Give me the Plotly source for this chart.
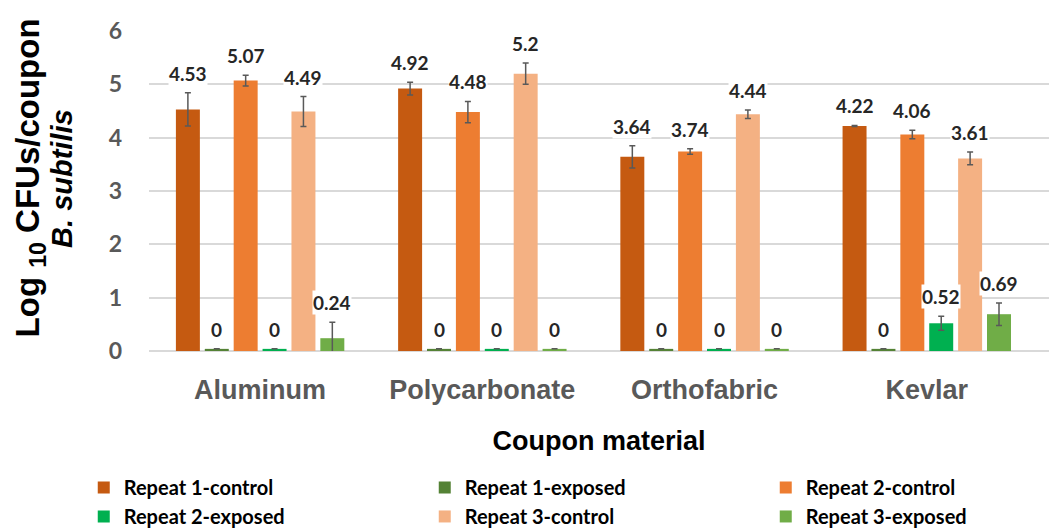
import numpy as np
import plotly.graph_objects as go

# data
materials = ["Aluminum", "Polycarbonate", "Orthofabric", "Kevlar"]
series_names = [
    "Repeat 1-control",
    "Repeat 1-exposed",
    "Repeat 2-control",
    "Repeat 2-exposed",
    "Repeat 3-control",
    "Repeat 3-exposed",
]
r1_control = [4.53, 4.92, 3.64, 4.22]
r1_exposed = [0, 0, 0, 0]
r2_control = [5.07, 4.48, 3.74, 4.06]
r2_exposed = [0, 0, 0, 0.52]
r3_control = [4.49, 5.2, 4.44, 3.61]
r3_exposed = [0.24, 0, 0, 0.69]

r1_control_err = [0.31, 0.12, 0.21, 0.01]
r1_exposed_err = [0, 0, 0, 0]
r2_control_err = [0.1, 0.2, 0.05, 0.08]
r2_exposed_err = [0, 0, 0, 0.13]
r3_control_err = [0.28, 0.2, 0.08, 0.12]
r3_exposed_err = [0.3, 0, 0, 0.21]

values = [r1_control, r1_exposed, r2_control, r2_exposed, r3_control, r3_exposed]
errors = [r1_control_err, r1_exposed_err, r2_control_err, r2_exposed_err,
          r3_control_err, r3_exposed_err]
colors = ["#C55A11", "#548235", "#ED7D31", "#00B050", "#F4B183", "#70AD47"]

bargap = 0.22
n = len(series_names)
slot = (1 - bargap) / n

fig = go.Figure()
for k, (name, vals, errs, col) in enumerate(zip(series_names, values, errors, colors)):
    # zero bars are still drawn as a thin stub, like the original
    shown = np.maximum(vals, 0.04)
    fig.add_trace(go.Bar(
        name=f"<b>{name}</b>",
        x=materials,
        y=shown,
        marker=dict(color=col, line=dict(width=0)),
        error_y=dict(type="data", array=errs, visible=True,
                     color="#595959", thickness=1.5, width=3),
        hoverinfo="skip",
    ))
    for i, (v, e) in enumerate(zip(vals, errs)):
        fig.add_annotation(
            x=i - (1 - bargap) / 2 + (k + 0.5) * slot,
            y=max(v, 0.04) + e,
            text=f"<b>{v:g}</b>",
            showarrow=False,
            yanchor="bottom",
            yshift=7,
            bgcolor="white",
            borderpad=0,
            font=dict(family="Lato", size=19, color="#262626"),
        )

# y axis title, two lines set closer together than plotly's line height
fig.add_annotation(
    text="<b>Log <sub>10</sub> CFUs/coupon</b>",
    xref="paper", yref="paper", x=-0.132, y=0.54,
    xanchor="center", yanchor="middle",
    textangle=-90, showarrow=False,
    font=dict(family="Liberation Sans", size=33, color="black"),
)
fig.add_annotation(
    text="<b><i>B. subtilis</i></b>",
    xref="paper", yref="paper", x=-0.097, y=0.54,
    xanchor="center", yanchor="middle",
    textangle=-90, showarrow=False,
    font=dict(family="Liberation Sans", size=29, color="black"),
)

fig.update_layout(
    width=1052,
    height=529,
    barmode="group",
    bargap=bargap,
    bargroupgap=0.17,
    plot_bgcolor="white",
    paper_bgcolor="white",
    font_family="Liberation Sans",
    margin=dict(l=149, r=3, t=31, b=178, autoexpand=False),
    showlegend=True,
    legend=dict(
        orientation="h",
        x=-0.0725,
        xanchor="left",
        y=-0.578,
        yanchor="bottom",
        entrywidth=296,
        traceorder="normal",
        font=dict(family="Lato", size=20, color="black"),
        itemwidth=30,
        tracegroupgap=0,
    ),
)

fig.update_xaxes(
    range=[-0.5, 3.55],
    showgrid=False,
    showline=False,
    ticks="",
    ticklabelstandoff=20,
    tickfont=dict(size=27, color="#595959", family="Liberation Sans"),
    tickprefix="<b>",
    ticksuffix="</b>",
    title=dict(text="<b>Coupon material</b>", standoff=27,
               font=dict(size=27, color="black")),
)

fig.update_yaxes(
    range=[0, 6],
    dtick=1,
    showgrid=True,
    gridcolor="#D9D9D9",
    gridwidth=1.5,
    zeroline=True,
    zerolinecolor="#D9D9D9",
    zerolinewidth=1.5,
    tickfont=dict(size=23, color="#595959", family="Lato"),
    tickprefix="<b>",
    ticksuffix="</b>",
    ticklabelstandoff=26,
)

fig.write_html(
    "out.html",
    config={"displayModeBar": False},
    post_script="document.body.style.margin='0px';",
)
